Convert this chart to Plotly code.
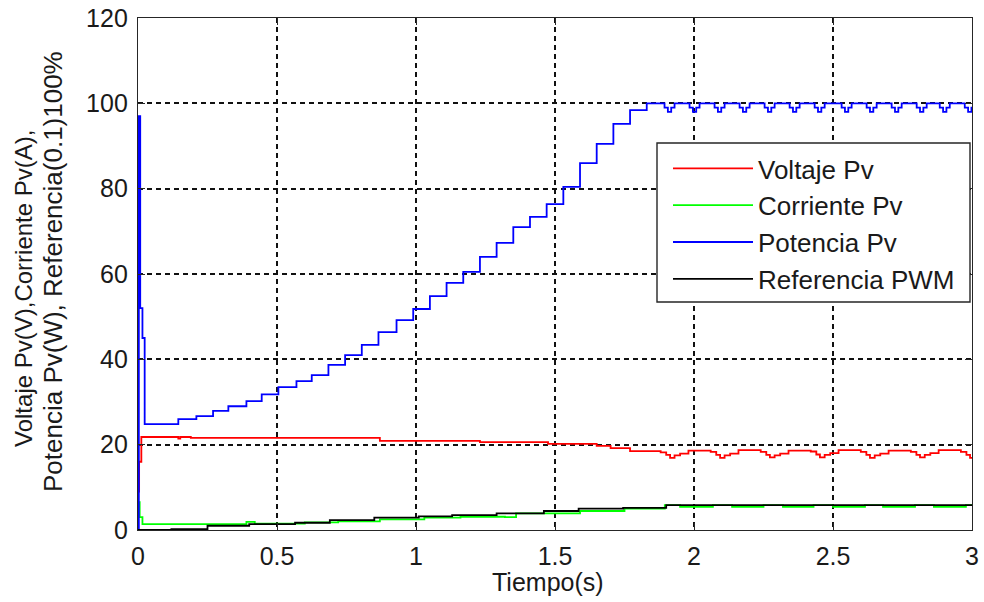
import plotly.graph_objects as go

# ---- data ----
volt_t = [0, 0.004, 0.012, 0.145, 0.152, 0.19, 0.87, 1.23, 1.475, 1.65, 1.70, 1.77,
          1.88, 1.90, 1.914, 1.93, 1.95, 1.98,
          2.06, 2.08, 2.094, 2.11, 2.13, 2.16,
          2.24, 2.26, 2.273, 2.29, 2.31, 2.34,
          2.42, 2.44, 2.453, 2.47, 2.49, 2.52,
          2.60, 2.62, 2.633, 2.65, 2.67, 2.70,
          2.78, 2.80, 2.813, 2.83, 2.85, 2.88,
          2.96, 2.98, 2.993, 3.0]
volt_v = [9, 16, 21.8, 21.4, 21.8, 21.6, 20.9, 20.6, 20.2, 19.7, 19.2, 18.5,
          18.2, 17.6, 16.9, 17.5, 17.9, 18.6,
          18.3, 17.6, 16.9, 17.5, 17.9, 18.7,
          18.3, 17.6, 17.0, 17.5, 17.9, 18.6,
          18.4, 17.7, 17.0, 17.6, 18.0, 18.7,
          18.3, 17.6, 16.9, 17.5, 17.9, 18.6,
          18.3, 17.6, 17.0, 17.6, 18.0, 18.7,
          18.3, 17.6, 16.9, 16.9]

curr_t = [0, 0.006, 0.016, 0.39, 0.42, 0.60, 0.72, 0.87, 1.03, 1.16, 1.32, 1.36,
          1.59, 1.75, 1.895, 1.95, 2.068, 2.137, 2.25, 2.32, 2.43, 2.50,
          2.615, 2.68, 2.795, 2.863, 2.978, 3.0]
curr_v = [6.5, 3.0, 1.4, 1.9, 1.5, 1.8, 2.0, 2.5, 2.9, 3.1, 3.0, 3.9,
          4.45, 5.0, 5.85, 5.4, 5.85, 5.4, 5.85, 5.4, 5.85, 5.4,
          5.85, 5.4, 5.85, 5.4, 5.85, 5.85]

pot_t = [0, 0.003, 0.008, 0.016, 0.024, 0.145, 0.21, 0.27, 0.325, 0.39, 0.445,
         0.505, 0.57, 0.625, 0.685, 0.745, 0.805, 0.865, 0.93, 0.99, 1.05, 1.11,
         1.17, 1.23, 1.29, 1.35, 1.41, 1.47, 1.53, 1.59, 1.65, 1.71, 1.77, 1.83,
         1.894, 1.906, 1.918, 1.930,
         1.984, 1.996, 2.008, 2.020,
         2.074, 2.086, 2.098, 2.110,
         2.164, 2.176, 2.188, 2.200,
         2.254, 2.266, 2.278, 2.290,
         2.344, 2.356, 2.368, 2.380,
         2.434, 2.446, 2.458, 2.470,
         2.531, 2.543, 2.555, 2.567,
         2.621, 2.633, 2.645, 2.657,
         2.711, 2.723, 2.735, 2.747,
         2.801, 2.813, 2.825, 2.837,
         2.884, 2.896, 2.908, 2.920,
         2.974, 2.986, 2.998, 3.0]
pot_v = [0, 97, 52, 45, 24.8, 26.0, 26.7, 27.9, 29.0, 30.2, 31.8,
         33.5, 34.9, 36.3, 38.7, 41.0, 43.4, 46.4, 49.2, 51.8, 54.8, 57.9,
         60.5, 64.0, 67.3, 71.0, 73.4, 76.4, 80.4, 86.0, 90.5, 95.2, 98.4, 100,
         99.0, 98.0, 99.0, 100,
         99.0, 98.0, 99.0, 100,
         99.0, 98.0, 99.0, 100,
         99.0, 98.0, 99.0, 100,
         99.0, 98.0, 99.0, 100,
         99.0, 98.0, 99.0, 100,
         99.0, 98.0, 99.0, 100,
         99.0, 98.0, 99.0, 100,
         99.0, 98.0, 99.0, 100,
         99.0, 98.0, 99.0, 100,
         99.0, 98.0, 99.0, 100,
         99.0, 98.0, 99.0, 100,
         99.0, 98.0, 99.0, 98.5]

ref_t = [0, 0.12, 0.25, 0.40, 0.565, 0.69, 0.85, 1.01, 1.13, 1.29, 1.46, 1.585, 1.745, 1.9, 3.0]
ref_v = [0, 0.2, 1.0, 1.4, 1.7, 2.3, 2.9, 3.2, 3.5, 3.9, 4.45, 5.0, 5.2, 5.85, 5.85]

names = ["Voltaje Pv", "Corriente Pv", "Potencia Pv", "Referencia PWM"]
colors = ["#ff0000", "#00ff00", "#0000ff", "#000000"]
x_ticks = [0, 0.5, 1, 1.5, 2, 2.5, 3]
x_labels = ["0", "0.5", "1", "1.5", "2", "2.5", "3"]
y_ticks = [0, 20, 40, 60, 80, 100, 120]
ylabel_lines = ["Voltaje Pv(V),Corriente Pv(A),", "Potencia Pv(W), Referencia(0.1)100%"]
xlabel = "Tiempo(s)"

FONT = "Liberation Sans, Arial, sans-serif"
TXT = "#1a1a1a"
EDGE = "#262626"

# pixel geometry of the plotting area
W, H = 984, 602
L, R, T, B = 138, 12, 18, 72
PW, PH = W - L - R, H - T - B


def px_x(px):
    return (px - L) / PW


def px_y(py):
    return (H - B - py) / PH


fig = go.Figure()
series = [(volt_t, volt_v), (curr_t, curr_v), (pot_t, pot_v), (ref_t, ref_v)]
for i, ((t, v), n, c) in enumerate(zip(series, names, colors)):
    fig.add_trace(go.Scatter(x=t, y=v, mode="lines", name=n,
                             line=dict(color=c, width=1.8, shape="hv"),
                             legendgroup=f"g{i}"))

axis_common = dict(showline=True, linecolor=EDGE, linewidth=1.4, mirror="ticks",
                   ticks="inside", ticklen=7, tickcolor=EDGE, tickwidth=1.4,
                   showgrid=True, gridcolor="#111111", gridwidth=1.5, griddash="5px,4px",
                   zeroline=False, tickfont=dict(family=FONT, size=25, color=TXT),
                   automargin=False)

fig.update_xaxes(range=[0, 3], tickvals=x_ticks, ticktext=x_labels,
                 ticklabelstandoff=4, **axis_common)
fig.update_yaxes(range=[0, 120], tickvals=y_ticks, ticklabelstandoff=4, **axis_common)

fig.update_layout(
    width=W, height=H,
    margin=dict(l=L, r=R, t=T, b=B, autoexpand=False),
    paper_bgcolor="white", plot_bgcolor="white",
    font=dict(family=FONT, color=TXT),
    legend=dict(x=px_x(668), y=px_y(145), xanchor="left", yanchor="top",
                bgcolor="rgba(0,0,0,0)", borderwidth=0,
                font=dict(family=FONT, size=26, color=TXT),
                itemwidth=80, tracegroupgap=0, itemclick=False),
    shapes=[
        dict(type="rect", xref="paper", yref="paper", layer="above",
             x0=px_x(657), x1=px_x(970), y0=px_y(302), y1=px_y(143),
             fillcolor="white", line=dict(color=EDGE, width=1.4)),
    ],
    annotations=[
        dict(text=xlabel, x=px_x(548), y=px_y(582), xref="paper", yref="paper",
             xanchor="center", yanchor="middle", showarrow=False,
             font=dict(family=FONT, size=25, color=TXT)),
        dict(text=ylabel_lines[0], x=px_x(23), y=px_y(289), xref="paper", yref="paper",
             textangle=-90, xanchor="center", yanchor="middle", showarrow=False,
             font=dict(family=FONT, size=24, color=TXT)),
        dict(text=ylabel_lines[1], x=px_x(53), y=px_y(272), xref="paper", yref="paper",
             textangle=-90, xanchor="center", yanchor="middle", showarrow=False,
             font=dict(family=FONT, size=26, color=TXT)),
    ],
    showlegend=True,
)

fig.write_html("out.html")
